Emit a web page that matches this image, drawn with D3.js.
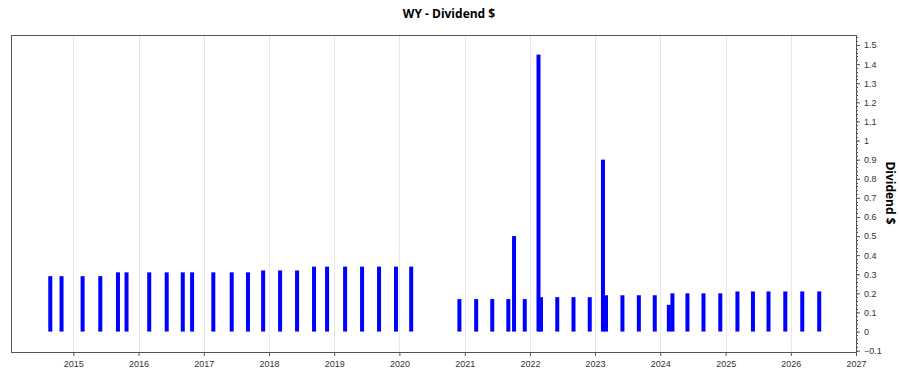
<!DOCTYPE html>
<html>
<head>
<meta charset="utf-8">
<script src="https://cdn.jsdelivr.net/npm/d3@7"></script>
<style>
  body { margin: 0; background: white; }
  svg { display: block; font-family: "Open Sans", "DejaVu Sans", sans-serif; }
</style>
</head>
<body>
<svg id="chart" width="900" height="375"></svg>
<script>
// dividend dates and amounts
const payDates = [
    "2014-08-25", "2014-10-27",
    "2015-02-22", "2015-06-01", "2015-09-08", "2015-10-26",
    "2016-03-01", "2016-06-07", "2016-09-05", "2016-10-27",
    "2017-02-23", "2017-06-06", "2017-09-05", "2017-11-29",
    "2018-03-04", "2018-06-07", "2018-09-10", "2018-11-22",
    "2019-03-03", "2019-06-06", "2019-09-09", "2019-12-13",
    "2020-03-07",
    "2020-12-02",
    "2021-03-06", "2021-06-04", "2021-09-02", "2021-10-04", "2021-12-03",
    "2022-02-18", "2022-03-04", "2022-06-03", "2022-09-02", "2022-12-02",
    "2023-02-14", "2023-03-03", "2023-06-03", "2023-09-03", "2023-12-01",
    "2024-02-18", "2024-03-09", "2024-06-01", "2024-08-30", "2024-12-02",
    "2025-03-08", "2025-06-03", "2025-08-29", "2025-12-01",
    "2026-03-06", "2026-06-09"
];
const amounts = [
    0.29, 0.29,
    0.29, 0.29, 0.31, 0.31,
    0.31, 0.31, 0.31, 0.31,
    0.31, 0.31, 0.31, 0.32,
    0.32, 0.32, 0.34, 0.34,
    0.34, 0.34, 0.34, 0.34,
    0.34,
    0.17,
    0.17, 0.17, 0.17, 0.50, 0.17,
    1.45, 0.18, 0.18, 0.18, 0.18,
    0.90, 0.19, 0.19, 0.19, 0.19,
    0.14, 0.20, 0.20, 0.20, 0.20,
    0.21, 0.21, 0.21, 0.21,
    0.21, 0.21
];
const yearTicks = [2015, 2016, 2017, 2018, 2019, 2020, 2021, 2022, 2023, 2024, 2025, 2026, 2027];
const yTicks = [-0.1, 0, 0.1, 0.2, 0.3, 0.4, 0.5, 0.6, 0.7, 0.8, 0.9, 1, 1.1, 1.2, 1.3, 1.4, 1.5];

const parse = d3.timeParse("%Y-%m-%d");
const data = payDates.map((d, i) => ({ date: parse(d), value: amounts[i] }));

const svg = d3.select("#chart");
const plotL = 11, plotR = 856, plotT = 35, plotB = 352;

const x = d3.scaleTime()
    .domain([new Date(2014, 0, 17), new Date(2027, 0, 1)])
    .range([plotL, plotR]);
const y = d3.scaleLinear()
    .domain([-0.107, 1.5525])
    .range([plotB, plotT]);

// title
svg.append("text")
    .attr("x", 449)
    .attr("y", 18)
    .attr("text-anchor", "middle")
    .style("font-size", "12px")
    .style("font-weight", "bold")
    .text("WY - Dividend $");

// vertical grid lines at each year
svg.append("g")
    .selectAll("line")
    .data(yearTicks.slice(0, -1))
    .join("line")
    .attr("x1", d => Math.round(x(new Date(d, 0, 1))) + 0.5)
    .attr("x2", d => Math.round(x(new Date(d, 0, 1))) + 0.5)
    .attr("y1", plotT)
    .attr("y2", plotB)
    .attr("stroke", "#e6e6e6")
    .attr("stroke-width", 1);

// bars
const barW = 4;
svg.append("g")
    .selectAll("rect")
    .data(data)
    .join("rect")
    .attr("x", d => x(d.date) - barW / 2)
    .attr("y", d => y(d.value))
    .attr("width", barW)
    .attr("height", d => y(0) - y(d.value))
    .attr("fill", "#0000ff");

// frame
svg.append("rect")
    .attr("x", plotL + 0.5)
    .attr("y", plotT + 0.5)
    .attr("width", plotR - plotL)
    .attr("height", plotB - plotT)
    .attr("fill", "none")
    .attr("stroke", "#555")
    .attr("stroke-width", 1);

// x axis
const xAxis = d3.axisBottom(x)
    .tickValues(yearTicks.map(yr => new Date(yr, 0, 1)))
    .tickFormat(d3.timeFormat("%Y"))
    .tickSize(4)
    .tickSizeOuter(0);
const gx = svg.append("g")
    .attr("transform", `translate(0,${plotB})`)
    .call(xAxis);
gx.select(".domain").remove();
gx.selectAll("line").attr("stroke", "#555");
gx.selectAll("text").style("font-size", "9px").attr("fill", "#333").attr("dy", "0.9em");

// y axis on the right, minor ticks
const minor = d3.range(-0.1, 1.5501, 0.02);
svg.append("g")
    .selectAll("line")
    .data(minor)
    .join("line")
    .attr("x1", plotR)
    .attr("x2", plotR + 2)
    .attr("y1", d => Math.round(y(d)) + 0.5)
    .attr("y2", d => Math.round(y(d)) + 0.5)
    .attr("stroke", "#555");

const yAxis = d3.axisRight(y)
    .tickValues(yTicks)
    .tickFormat(d3.format("~g"))
    .tickSize(4)
    .tickSizeOuter(0);
const gy = svg.append("g")
    .attr("transform", `translate(${plotR},0)`)
    .call(yAxis);
gy.select(".domain").remove();
gy.selectAll("line").attr("stroke", "#555");
gy.selectAll("text").style("font-size", "9px").attr("fill", "#333").attr("x", 8);

// y axis label
svg.append("text")
    .attr("transform", `translate(886,193) rotate(90)`)
    .attr("text-anchor", "middle")
    .style("font-size", "12px")
    .style("font-weight", "bold")
    .text("Dividend $");
</script>
</body>
</html>
